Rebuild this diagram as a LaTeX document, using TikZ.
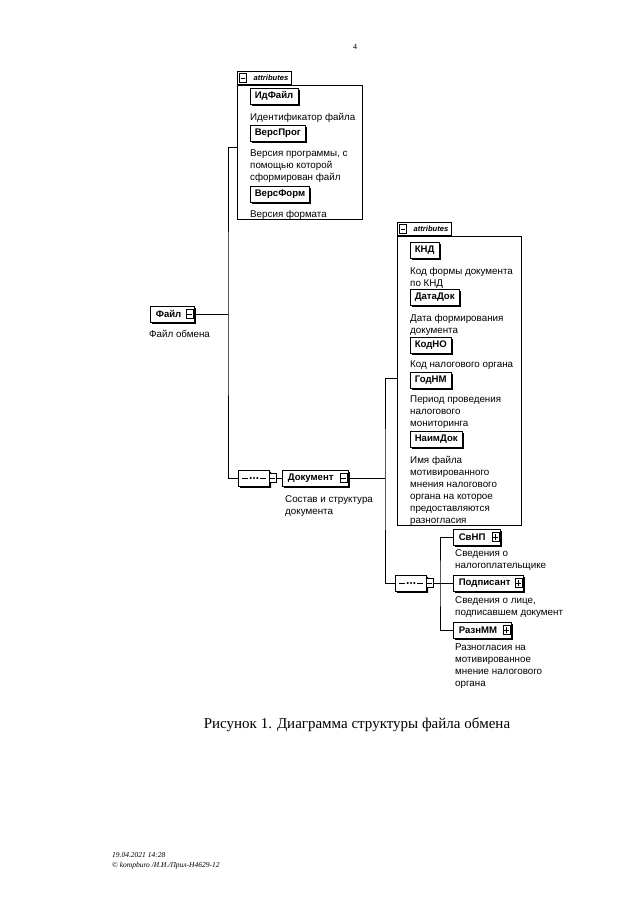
\documentclass[tikz,border=0pt]{standalone}
\usepackage{fontspec}
\setmainfont{Liberation Serif}
\setsansfont{Liberation Sans}
\usetikzlibrary{positioning,shapes.misc,shadows}
\newcommand{\descfont}{\sffamily\fontsize{9.8}{12}\selectfont}
\newcommand{\elemfont}{\sffamily\bfseries\fontsize{9.6}{11}\selectfont}

\begin{document}
\begin{tikzpicture}[
  x=1pt,y=-1pt,
  elem/.style={draw,fill=white,line width=0.6pt,font=\elemfont,minimum height=16pt,
    inner xsep=4.5pt,inner ysep=0pt,anchor=west,
    drop shadow={shadow xshift=1.8pt,shadow yshift=-1.8pt,opacity=1,fill=black}},
  desc/.style={anchor=north west,align=left,inner sep=0pt,font=\descfont},
  attrbox/.style={draw,line width=0.6pt,anchor=north west,inner sep=0pt},
  attrtab/.style={draw,line width=0.6pt,anchor=south west,minimum height=13pt,inner ysep=0pt,
    inner xsep=3pt,text width=48pt,align=right,font=\sffamily\bfseries\itshape\fontsize{7.6}{8}\selectfont},
  xminus/.style={draw,fill=white,line width=0.6pt,minimum width=7pt,minimum height=9pt,inner sep=0pt,
    path picture={\draw ([xshift=1.3pt]path picture bounding box.west) -- ([xshift=-1.3pt]path picture bounding box.east);}},
  xplus/.style={xminus,
    path picture={\draw ([xshift=1.3pt]path picture bounding box.west) -- ([xshift=-1.3pt]path picture bounding box.east);
      \draw ([yshift=-1.5pt]path picture bounding box.north) -- ([yshift=1.5pt]path picture bounding box.south);}},
  inbox/.style={anchor=east,xshift=-1.5pt},
  seq/.style={chamfered rectangle,chamfered rectangle xsep=5pt,chamfered rectangle ysep=4pt,
    draw,fill=white,line width=0.6pt,minimum width=31pt,minimum height=16pt,inner sep=0pt,
    drop shadow={shadow xshift=1.5pt,shadow yshift=-1.8pt,opacity=1,fill=black},
    path picture={\draw ([xshift=3.5pt]path picture bounding box.west) -- ([xshift=-6pt]path picture bounding box.center);
      \draw ([xshift=6pt]path picture bounding box.center) -- ([xshift=-3.5pt]path picture bounding box.east);
      \foreach \dx in {-3.3,0,3.3} \fill[black] ([xshift=\dx pt]path picture bounding box.center) circle (1.2pt);}},
  wire/.style={line width=0.6pt},
  ]
  \useasboundingbox (0,0) rectangle (640,905);
  \node[font=\rmfamily\fontsize{8}{9}\selectfont] (pnum) at (355,47) {4};

  % attributes of Файл
  \node[attrbox,minimum width=125pt,minimum height=134pt] (attr1) at (237,85) {};
  \node[attrtab] (attr1-tab) at (attr1.north west) {attributes};
  \node[xminus,right=2pt of attr1-tab.west] (attr1-m) {};
  \node[elem] (idfajl) at (250,96) {ИдФайл};
  \node[desc] (idfajl-t) at (250,113) {Идентификатор файла};
  \node[elem] (versprog) at (250,133) {ВерсПрог};
  \node[desc] (versprog-t) at (250,150) {Версия программы, с\\помощью которой\\сформирован файл};
  \node[elem] (versform) at (250,194) {ВерсФорм};
  \node[desc] (versform-t) at (250,210) {Версия формата};

  % root
  \node[elem,minimum width=44pt,align=left,text width=33pt] (fajl) at (150,314) {Файл};
  \node[xminus,inbox] (fajl-x) at (fajl.east) {};
  \node[desc] (fajl-t) at (149,330) {Файл обмена};

  \node[seq] (seq1) at (254,478) {};
  \node[xminus,anchor=west,xshift=-1pt] (seq1-x) at (seq1.east) {};
  \node[elem,minimum width=66pt,align=left,text width=55pt] (dok) at (282,478) {Документ};
  \node[xminus,inbox] (dok-x) at (dok.east) {};
  \node[desc] (dok-t) at (285,495) {Состав и структура\\документа};

  % attributes of Документ
  \node[attrbox,minimum width=124pt,minimum height=289pt] (attr2) at (397,236) {};
  \node[attrtab] (attr2-tab) at (attr2.north west) {attributes};
  \node[xminus,right=2pt of attr2-tab.west] (attr2-m) {};
  \node[elem] (knd) at (410,250) {КНД};
  \node[desc] (knd-t) at (410,267) {Код формы документа\\по КНД};
  \node[elem] (datadok) at (410,297) {ДатаДок};
  \node[desc] (datadok-t) at (410,314) {Дата формирования\\документа};
  \node[elem] (kodno) at (410,345) {КодНО};
  \node[desc] (kodno-t) at (410,361) {Код налогового органа};
  \node[elem] (godnm) at (410,380) {ГодНМ};
  \node[desc] (godnm-t) at (410,396) {Период проведения\\налогового\\мониторинга};
  \node[elem] (naimdok) at (410,439) {НаимДок};
  \node[desc] (naimdok-t) at (410,456) {Имя файла\\мотивированного\\мнения налогового\\органа на которое\\предоставляются\\разногласия};

  % children of Документ
  \node[seq] (seq2) at (411,583) {};
  \node[xminus,anchor=west,xshift=-1pt] (seq2-x) at (seq2.east) {};
  \node[elem,minimum width=47pt,align=left,text width=36pt] (svnp) at (453,537) {СвНП};
  \node[xplus,inbox] (svnp-x) at (svnp.east) {};
  \node[desc] (svnp-t) at (455,549) {Сведения о\\налогоплательщике};
  \node[elem,minimum width=70pt,align=left,text width=59pt] (podp) at (453,583) {Подписант};
  \node[xplus,inbox] (podp-x) at (podp.east) {};
  \node[desc] (podp-t) at (455,596) {Сведения о лице,\\подписавшем документ};
  \node[elem,minimum width=58pt,align=left,text width=47pt] (raznmm) at (453,630) {РазнММ};
  \node[xplus,inbox] (raznmm-x) at (raznmm.east) {};
  \node[desc] (raznmm-t) at (455,644) {Разногласия на\\мотивированное\\мнение налогового\\органа};

  % connectors
  \coordinate (bus1) at (228,314);
  \coordinate (bus2) at (385,478);
  \coordinate (bus3) at (440,583);
  \draw[wire] (fajl.east) -- (bus1);
  \draw[wire] (attr1.west |- 0,147) -| (bus1) |- (seq1.west);
  \draw[wire] (seq1-x.east) -- (dok.west);
  \draw[wire] (dok.east) -- (bus2);
  \draw[wire] (attr2.west |- 0,378) -| (bus2) |- (seq2.west);
  \draw[wire] (seq2-x.east) -- (podp.west);
  \draw[wire] (svnp.west) -| (bus3) |- (raznmm.west);

  \node[font=\rmfamily\fontsize{15}{18}\selectfont] (caption) at (357,725) {Рисунок 1. Диаграмма структуры файла обмена};
  \node[anchor=north west,align=left,inner sep=0pt,font=\rmfamily\itshape\fontsize{7.5}{10}\selectfont] (footer) at (112,852)
    {19.04.2021 14:28\\© kompburo /И.И./Прил-Н4629-12};
\end{tikzpicture}
\end{document}
